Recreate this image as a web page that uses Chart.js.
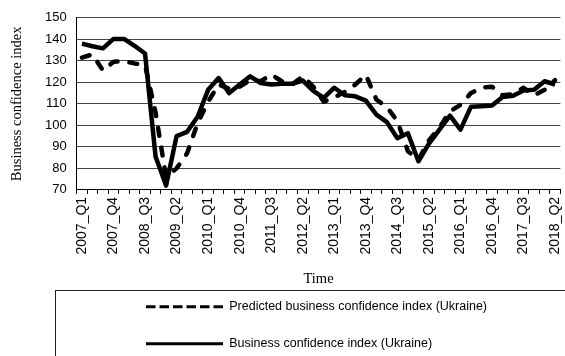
<!DOCTYPE html>
<html>
<head>
<meta charset="utf-8">
<script src="https://cdn.jsdelivr.net/npm/chart.js@4.4.1/dist/chart.umd.min.js"></script>
<style>
  html, body { margin: 0; padding: 0; background: #fff; overflow: hidden; }
  #wrap { position: relative; width: 575px; height: 356px; }
</style>
</head>
<body>
<div id="wrap"><canvas id="chart"></canvas></div>
<script>
const quarters = [
  '2007_Q1', '2007_Q2', '2007_Q3', '2007_Q4',
  '2008_Q1', '2008_Q2', '2008_Q3', '2008_Q4',
  '2009_Q1', '2009_Q2', '2009_Q3', '2009_Q4',
  '2010_Q1', '2010_Q2', '2010_Q3', '2010_Q4',
  '2011_Q1', '2011_Q2', '2011_Q3', '2011_Q4',
  '2012_Q1', '2012_Q2', '2012_Q3', '2012_Q4',
  '2013_Q1', '2013_Q2', '2013_Q3', '2013_Q4',
  '2014_Q1', '2014_Q2', '2014_Q3', '2014_Q4',
  '2015_Q1', '2015_Q2', '2015_Q3', '2015_Q4',
  '2016_Q1', '2016_Q2', '2016_Q3', '2016_Q4',
  '2017_Q1', '2017_Q2', '2017_Q3', '2017_Q4',
  '2018_Q1', '2018_Q2'
];

// only every third quarter gets a label
const shownTicks = [
  '2007_Q1', '2007_Q4', '2008_Q3', '2009_Q2', '2010_Q1', '2010_Q4',
  '2011_Q3', '2012_Q2', '2013_Q1', '2013_Q4', '2014_Q3', '2015_Q2',
  '2016_Q1', '2016_Q4', '2017_Q3', '2018_Q2'
];

const predicted = [
  131.5, 133, 125.5, 129.6, 129.8, 128.8, 128, 106,
  76, 80, 87, 101, 111, 119, 117, 118,
  121, 120.5, 123.6, 120.5, 119, 122.8, 118, 111,
  113, 115.5, 119, 123.5, 112, 108.5, 102, 88,
  84, 93, 99, 106.5, 109.5, 115, 117.5, 118,
  114, 114.5, 117.5, 114, 116.5, 121
];

const actual = [
  138, 136.8, 135.8, 140.2, 140.2, 137, 133.4, 85.5,
  72, 95, 97, 104, 116.5, 122, 115, 119,
  122.8, 119.7, 119, 119.3, 119.3, 120.8, 116, 112.8,
  117.5, 114, 113.5, 111.5, 105, 101.5, 94, 96.3,
  83.3, 91.5, 98, 104.5, 98, 108.7, 108.9, 109.2,
  113.2, 113.8, 116.2, 116.5, 120.5, 119
];

const SANS = "'Liberation Sans', Arial, sans-serif";
const SERIF = "'Liberation Serif', 'Times New Roman', serif";

// legend sits indented inside a framed box under the axis title
const legendFrame = {
  id: 'legendFrame',
  afterLayout(chart) {
    chart.legend.left = 121.5;
    chart.legend.top += 4;
  },
  afterDraw(chart) {
    const ctx = chart.ctx;
    ctx.save();
    ctx.strokeStyle = '#222';
    ctx.lineWidth = 1;
    ctx.strokeRect(55.5, 290.5, 600, 120);
    ctx.restore();
  }
};

const ctx = document.getElementById('chart').getContext('2d');

new Chart(ctx, {
  type: 'line',
  data: {
    labels: quarters,
    datasets: [
      {
        label: 'Predicted business confidence index (Ukraine)',
        data: predicted,
        borderColor: '#000',
        backgroundColor: '#000',
        borderWidth: 4.5,
        borderDash: [8, 12],
        borderCapStyle: 'round',
        borderJoinStyle: 'round',
        pointRadius: 0,
        tension: 0,
        fill: false
      },
      {
        label: 'Business confidence index (Ukraine)',
        data: actual,
        borderColor: '#000',
        backgroundColor: '#000',
        borderWidth: 4.5,
        borderJoinStyle: 'round',
        pointRadius: 0,
        tension: 0,
        fill: false
      }
    ]
  },
  options: {
    responsive: true,
    maintainAspectRatio: false,
    animation: false,
    layout: { padding: { left: 8, top: 16, right: 8, bottom: 0 } },
    plugins: {
      tooltip: { enabled: false },
      legend: {
        position: 'bottom',
        align: 'start',
        labels: {
          color: '#000',
          font: { family: SANS, size: 12.5 },
          usePointStyle: true,
          pointStyle: 'line',
          pointStyleWidth: 77,
          padding: 24.5,
          generateLabels(chart) {
            const items = Chart.defaults.plugins.legend.labels.generateLabels(chart);
            return items.map(item => ({
              ...item,
              pointStyle: 'line',
              lineWidth: 3,
              lineCap: 'butt',
              lineDash: item.datasetIndex === 0 ? [9.5, 4] : []
            }));
          }
        }
      }
    },
    scales: {
      x: {
        offset: true,
        grid: {
          display: true,
          drawOnChartArea: false,
          drawTicks: true,
          tickLength: 4,
          color: '#000',
          offset: true
        },
        border: { color: '#000' },
        ticks: {
          autoSkip: false,
          minRotation: 90,
          maxRotation: 90,
          padding: 3,
          color: '#000',
          font: { family: SANS, size: 14 },
          callback(value, index) {
            const q = quarters[index];
            return shownTicks.includes(q) ? q : '';
          }
        },
        title: {
          display: true,
          text: 'Time',
          color: '#000',
          font: { family: SERIF, size: 14.5 },
          padding: { top: 12.8, bottom: -15.7 }
        }
      },
      y: {
        min: 70,
        max: 150,
        ticks: {
          stepSize: 10,
          padding: 10,
          color: '#000',
          font: { family: SANS, size: 13 }
        },
        grid: { color: '#444', drawTicks: false },
        border: { color: '#000' },
        title: {
          display: true,
          text: 'Business confidence index',
          color: '#000',
          font: { family: SERIF, size: 14.5 },
          padding: { top: 0, bottom: 9.6 }
        }
      }
    }
  },
  plugins: [legendFrame]
});
</script>
</body>
</html>
